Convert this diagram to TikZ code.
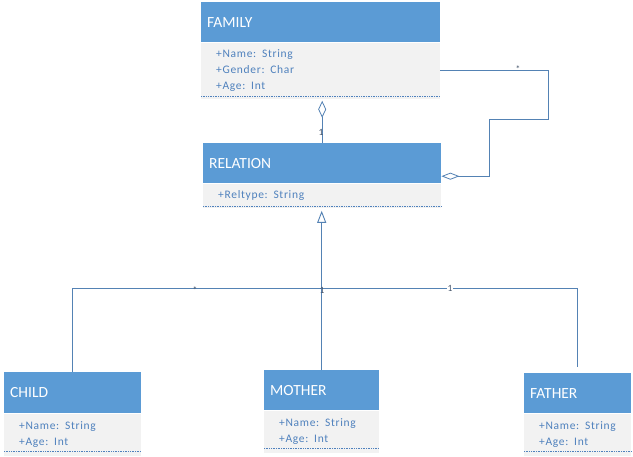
\documentclass[tikz,border=0pt]{standalone}
\usepackage{fontspec}
\setmainfont{Carlito}
\newfontfamily\attrfont[LetterSpace=6]{Carlito}
\usetikzlibrary{arrows.meta,calc}
\definecolor{hdrblue}{RGB}{91,155,213}
\definecolor{bodygray}{RGB}{242,242,242}
\definecolor{attrblue}{RGB}{79,129,189}
\definecolor{linecol}{RGB}{84,130,180}
\definecolor{multcol}{RGB}{68,84,106}
\tikzset{
  hdr/.style={rectangle, fill=hdrblue, anchor=north west, inner xsep=6pt, inner ysep=0pt,
    align=left, text=white, font=\fontsize{15.5}{18}\selectfont},
  bodyb/.style={rectangle, fill=bodygray, anchor=north west, inner xsep=15pt, inner ysep=0pt,
    align=left, text=attrblue, font=\attrfont\fontsize{11.5}{16}\selectfont},
  dotline/.style={draw=attrblue, densely dotted, line width=0.7pt},
  conn/.style={draw=linecol, line width=0.8pt},
  mult/.style={text=multcol, font=\fontsize{9.5}{10}\selectfont, inner sep=0.5pt},
}
\begin{document}
\begin{tikzpicture}[x=1pt,y=-1pt]
\useasboundingbox (0,0) rectangle (633,456);
\fill[white] (0,0) rectangle (633,456);

% FAMILY
\node[hdr, minimum height=40pt, text width=227pt] (famh) at (201,2) {FAMILY};
\node[bodyb, minimum height=56pt, text width=209pt] (famb) at (famh.south west)
  {+Name: String\\+Gender: Char\\+Age: Int};
\draw[dotline] ([yshift=2.5pt]famb.south west) -- ([yshift=2.5pt]famb.south east);

% RELATION
\node[hdr, minimum height=40pt, text width=226pt] (relh) at (203,143) {RELATION};
\node[bodyb, minimum height=24pt, text width=208pt] (relb) at (relh.south west)
  {+Reltype: String};
\draw[dotline] ([yshift=1.5pt]relb.south west) -- ([yshift=1.5pt]relb.south east);

% CHILD
\node[hdr, minimum height=41pt, text width=125pt] (childh) at (4,372) {CHILD};
\node[bodyb, minimum height=42pt, text width=107pt] (childb) at (childh.south west)
  {+Name: String\\+Age: Int};
\draw[dotline] ([yshift=4.5pt]childb.south west) -- ([yshift=4.5pt]childb.south east);

% MOTHER
\node[hdr, minimum height=40pt, text width=103pt] (mothh) at (264,370) {MOTHER};
\node[bodyb, minimum height=42pt, text width=85pt] (mothb) at (mothh.south west)
  {+Name: String\\+Age: Int};
\draw[dotline] ([yshift=4.5pt]mothb.south west) -- ([yshift=4.5pt]mothb.south east);

% FATHER
\node[hdr, minimum height=40pt, text width=95pt] (fathh) at (524,373) {FATHER};
\node[bodyb, minimum height=42pt, text width=77pt] (fathb) at (fathh.south west)
  {+Name: String\\+Age: Int};
\draw[dotline] ([yshift=4.5pt]fathb.south west) -- ([yshift=4.5pt]fathb.south east);

% aggregation FAMILY - RELATION (vertical)
\draw[conn, {Diamond[open, length=17pt, width=8pt, line width=0.8pt]}-, shorten <=2pt]
  (relh.north |- famb.south) -- (relh.north);
\node[mult] (m1) at (321,132) {1};

% aggregation FAMILY - RELATION (right side)
\draw[conn, -{Diamond[open, length=18pt, width=7pt, line width=0.8pt]}]
  (famb.east) -- ++(108,0) -- ++(0,49) -- ++(-59,0) |- ($(relh.east)+(0,13)$);
\node[mult] (m2) at (518,69) {*};

% generalisation tree
\coordinate (junc) at (mothh.north |- 0,288);
\draw[conn] (childh.north) -- (childh.north |- junc) -- (fathh.north |- junc)
  -- ($(fathh.north)+(0,-6)$);
\draw[conn] (mothh.north) -- (junc);
\draw[conn, line width=1.3pt, -{Triangle[open, length=12pt, width=9pt, line width=0.9pt]}, shorten >=3pt]
  (junc) -- (junc |- relb.south);
\node[mult] (m3) at (195,290) {*};
\node[mult] (m4) at (322,290) {1};
\node[mult, fill=white] (m5) at (450,288) {1};
\end{tikzpicture}
\end{document}
